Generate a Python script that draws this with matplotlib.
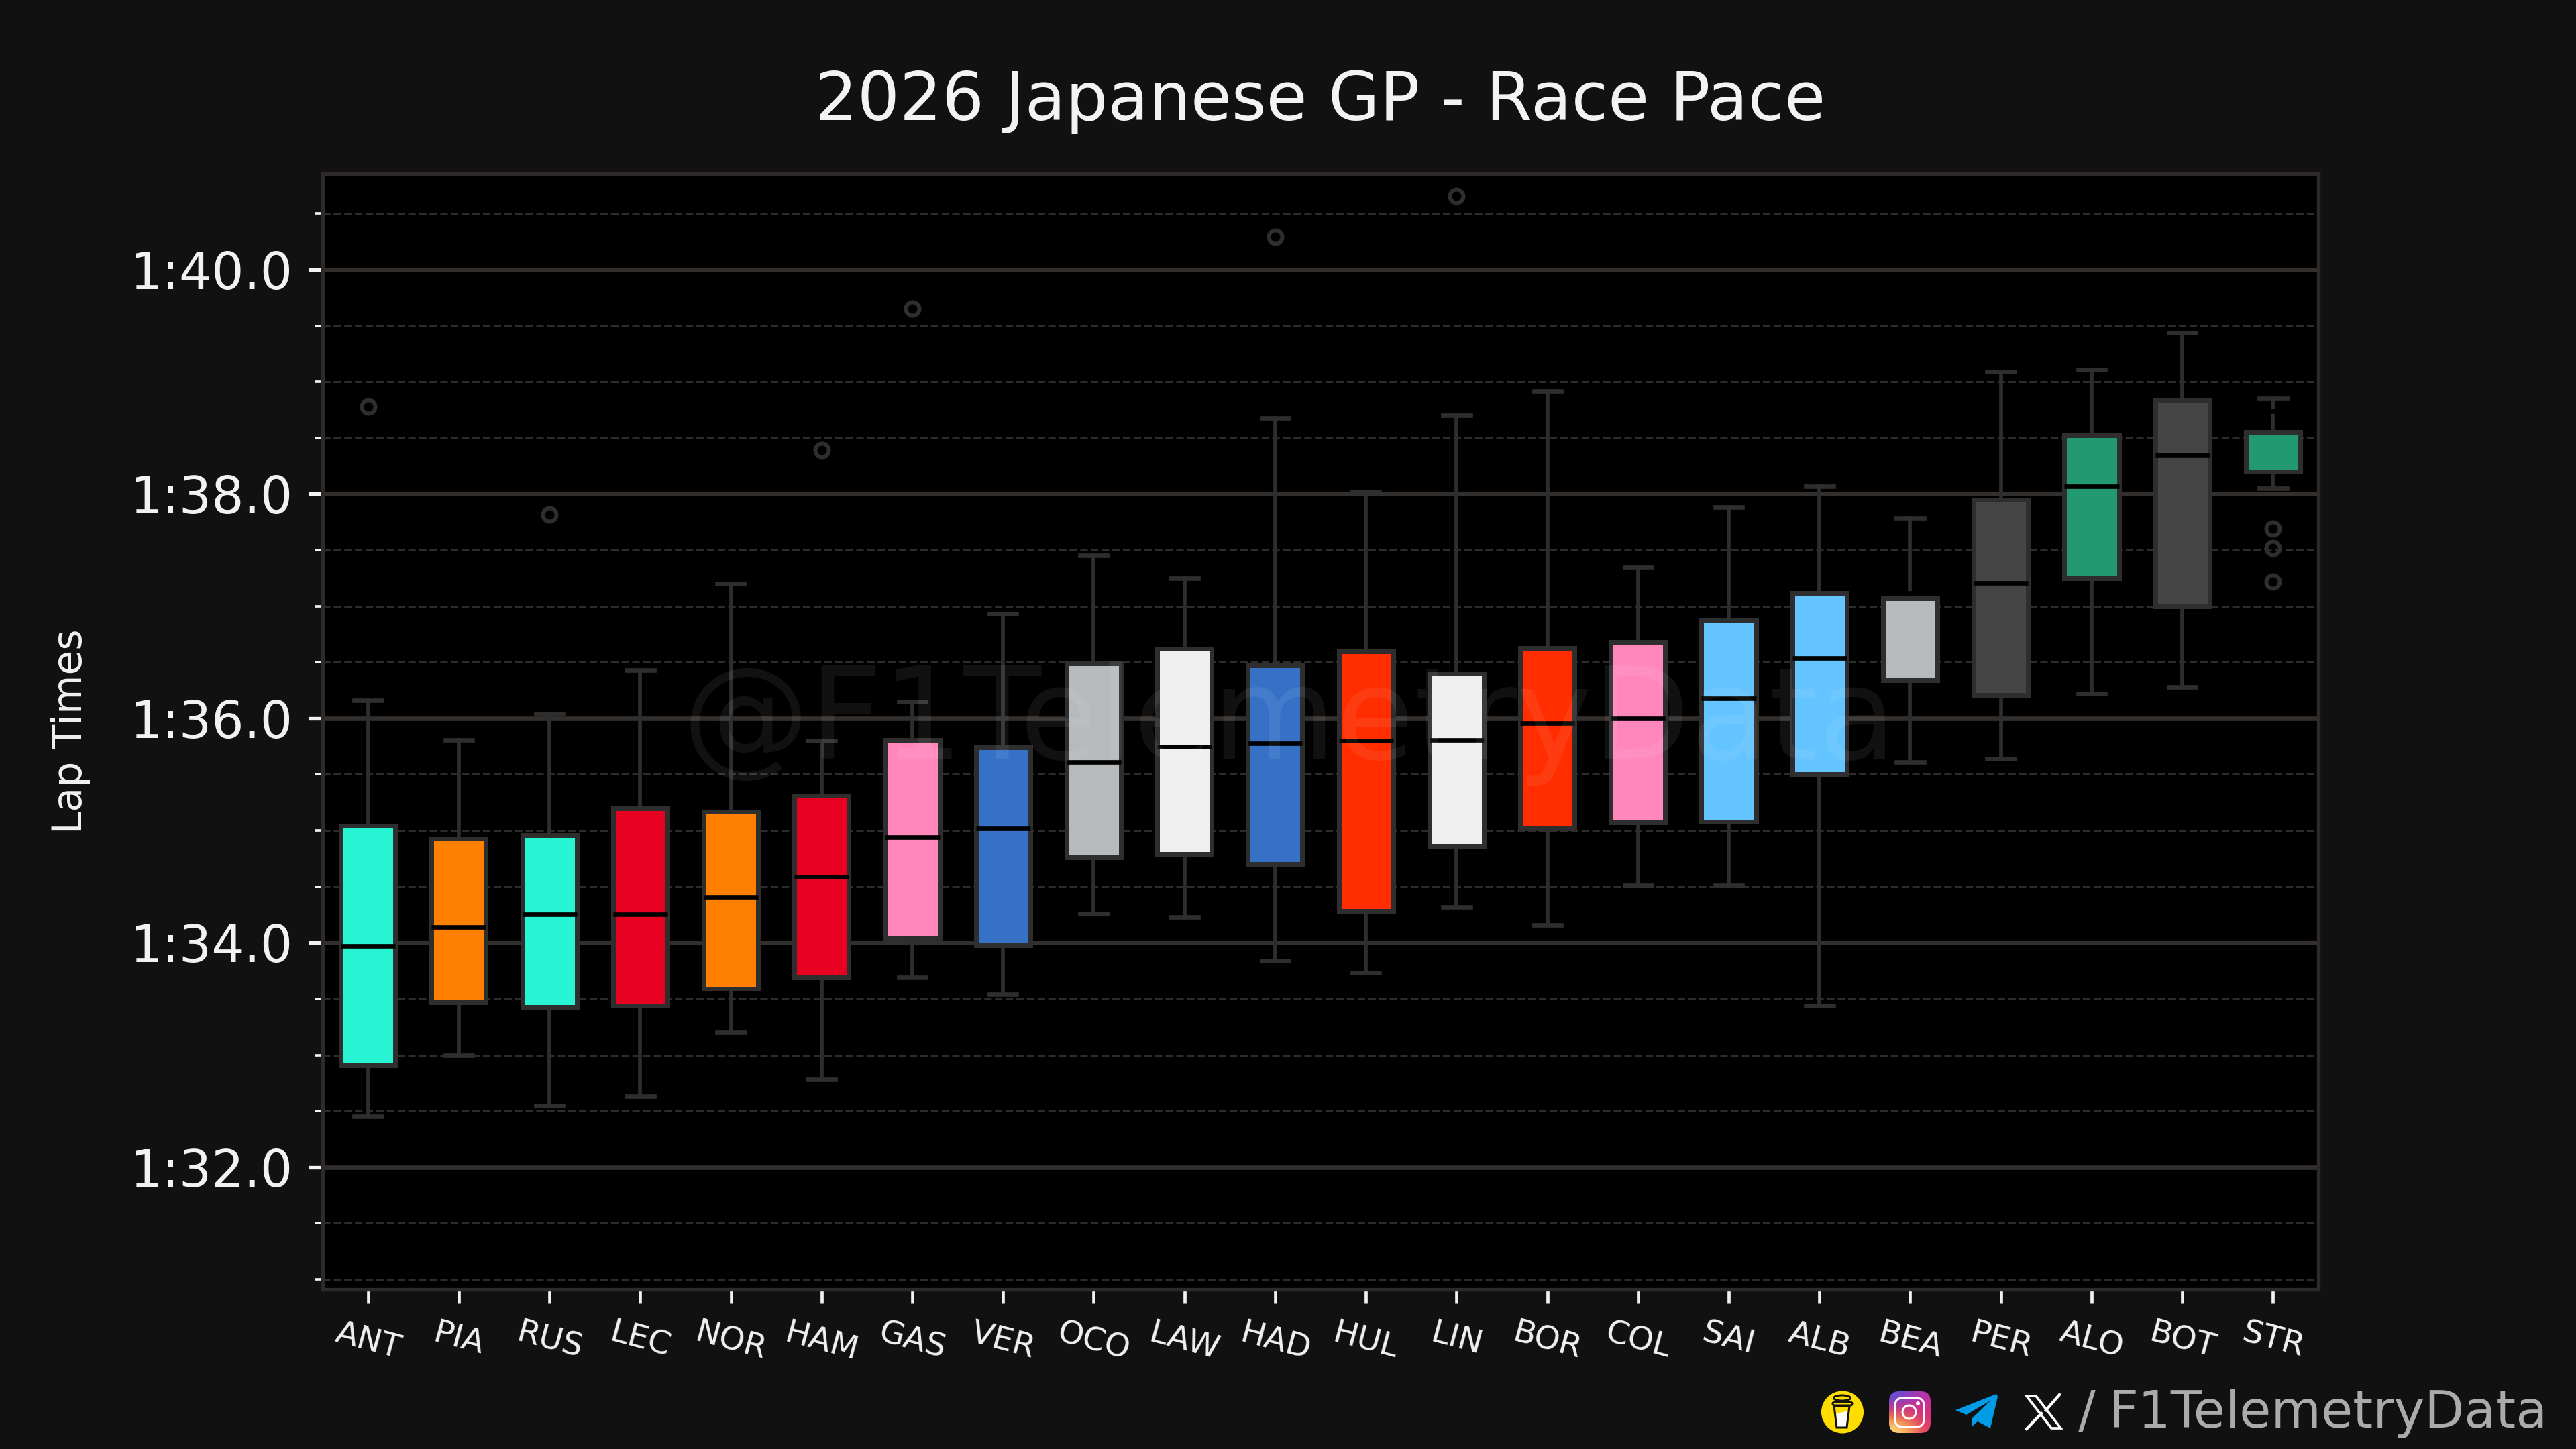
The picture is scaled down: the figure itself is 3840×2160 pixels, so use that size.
"""2026 Japanese GP race pace box plot, dark theme."""

import numpy as np
import matplotlib
matplotlib.use("Agg")
import matplotlib.pyplot as plt
from matplotlib.patches import Circle, Ellipse, FancyBboxPatch, Polygon
from matplotlib.ticker import FuncFormatter, MultipleLocator

# ── Data (lap times in seconds) ───────────────────────────────────────────
drivers = ["ANT", "PIA", "RUS", "LEC", "NOR", "HAM", "GAS", "VER", "OCO", "LAW", "HAD",
           "HUL", "LIN", "BOR", "COL", "SAI", "ALB", "BEA", "PER", "ALO", "BOT", "STR"]
whislo = [92.45, 93.00, 92.55, 92.63, 93.20, 92.78, 93.69, 93.54, 94.26, 94.23, 93.84,
          93.73, 94.32, 94.16, 94.51, 94.51, 93.44, 95.61, 95.64, 96.22, 96.28, 98.05]
q1 = [92.91, 93.47, 93.43, 93.44, 93.59, 93.69, 94.04, 93.98, 94.76, 94.79, 94.70,
      94.28, 94.86, 95.02, 95.07, 95.08, 95.50, 96.34, 96.21, 97.25, 97.00, 98.20]
med = [93.97, 94.14, 94.25, 94.25, 94.41, 94.59, 94.94, 95.02, 95.61, 95.75, 95.78,
       95.80, 95.81, 95.96, 96.00, 96.18, 96.54, 97.12, 97.21, 98.07, 98.35, 98.74]
q3 = [95.04, 94.93, 94.96, 95.20, 95.17, 95.31, 95.81, 95.74, 96.49, 96.62, 96.47,
      96.60, 96.40, 96.63, 96.68, 96.88, 97.12, 97.07, 97.95, 98.52, 98.84, 98.55]
whishi = [96.16, 95.81, 96.04, 96.43, 97.20, 95.80, 96.15, 96.93, 97.45, 97.25, 98.68,
          98.02, 98.70, 98.92, 97.35, 97.88, 98.07, 97.79, 99.09, 99.11, 99.44, 98.85]
fliers = [[98.78], [], [97.82], [], [], [98.39], [99.65], [], [], [], [100.29],
          [], [100.66], [], [], [], [], [], [], [], [], [97.69, 97.52, 97.22]]
box_colors = ["#27F4D2", "#FF8000", "#27F4D2", "#E80020", "#FF8000", "#E80020", "#FF87BC",
              "#3671C6", "#B6BABD", "#EFEFEF", "#3671C6", "#FF2D00", "#EFEFEF", "#FF2D00",
              "#FF87BC", "#64C4FF", "#64C4FF", "#B6BABD", "#454545", "#229971", "#454545",
              "#229971"]

# ── Style ─────────────────────────────────────────────────────────────────
BG = "#111111"
EDGE = "#2E2E2E"
GRID = "#332F2C"
W, H = 3840, 2160
L, R, T, B = 481, 3456, 259, 1922  # axes box in pixels
plt.rcParams["font.family"] = ["DejaVu Sans"]


def fmt_lap(v, _pos):
    return f"{int(v // 60)}:{v % 60:04.1f}"


def draw_footer(fig):
    """Social icons and handle, drawn in figure pixels."""
    ov = fig.add_axes([0, 0, 1, 1], zorder=5)
    ov.set_xlim(0, W)
    ov.set_ylim(H, 0)
    ov.axis("off")
    ink = "#16130A"

    # coffee cup
    ov.add_patch(Circle((2746.5, 2105), 31.5, fc="#FFDD00", ec="none"))
    ov.add_patch(Polygon([(2736, 2108), (2755, 2103), (2753, 2127), (2738, 2127)], fc="white", ec="none"))
    ov.add_patch(Polygon([(2734, 2096), (2757, 2096), (2753, 2128), (2738, 2128)], fc="none", ec=ink, lw=0.9))
    ov.add_patch(FancyBboxPatch((2732, 2090), 29, 5, boxstyle="round,pad=0,rounding_size=2.5",
                                fc="none", ec=ink, lw=0.9))
    ov.add_patch(Ellipse((2746, 2084), 25, 8, fc="none", ec=ink, lw=0.9))

    # instagram
    grad = np.array([[[0.36, 0.32, 0.85], [0.55, 0.25, 0.75], [0.72, 0.20, 0.65]],
                     [[0.72, 0.20, 0.60], [0.82, 0.18, 0.55], [0.82, 0.18, 0.55]],
                     [[0.93, 0.45, 0.25], [0.90, 0.30, 0.35], [0.85, 0.18, 0.48]],
                     [[1.00, 0.86, 0.50], [0.98, 0.65, 0.30], [0.88, 0.25, 0.40]]])
    im = ov.imshow(grad, extent=(2816, 2878, 2136, 2074), interpolation="bicubic", aspect="auto")
    clip = FancyBboxPatch((2816, 2074), 62, 62, boxstyle="round,pad=0,rounding_size=15",
                          fc="none", ec="none", transform=ov.transData)
    ov.add_patch(clip)
    im.set_clip_path(clip)
    ov.add_patch(FancyBboxPatch((2825, 2084), 43, 43, boxstyle="round,pad=0,rounding_size=11",
                                fc="none", ec="white", lw=0.9))
    ov.add_patch(Circle((2846, 2105), 10, fc="none", ec="white", lw=0.9))
    ov.add_patch(Circle((2859, 2092), 3, fc="white", ec="none"))

    # telegram
    ov.add_patch(Polygon([(2915, 2102), (2976, 2078), (2978, 2082), (2967, 2129), (2948, 2119),
                          (2939, 2127), (2939, 2115), (2967, 2088), (2931, 2109)],
                         fc="#039BE5", ec="none"))

    # X
    ov.add_patch(Polygon([(3021, 2081), (3035, 2081), (3072, 2129), (3058, 2129)],
                         fc="none", ec="white", lw=1.1))
    ov.plot([3070, 3050], [2079, 2102], color="white", lw=1.3)
    ov.plot([3043, 3021], [2107, 2130], color="white", lw=1.3)

    ov.set_xlim(0, W)
    ov.set_ylim(H, 0)
    ov.text(3798, 2128, "/", color="#ABABAB", fontsize=23, ha="right", va="baseline",
            transform=ov.transData, position=(3124, 2128))
    ov.text(3798, 2128, "F1TelemetryData", color="#ABABAB", fontsize=23, ha="right", va="baseline")


def main():
    fig = plt.figure(figsize=(16, 9), dpi=240, facecolor=BG)
    ax = fig.add_axes([L / W, 1 - B / H, (R - L) / W, (B - T) / H], facecolor="black")

    stats = [
        {"label": d, "whislo": wl, "q1": a, "med": m, "q3": b, "whishi": wh, "fliers": f}
        for d, wl, a, m, b, wh, f in zip(drivers, whislo, q1, med, q3, whishi, fliers)
    ]
    parts = ax.bxp(
        stats,
        positions=np.arange(len(drivers)),
        widths=0.6,
        patch_artist=True,
        boxprops=dict(edgecolor=EDGE, linewidth=2.1),
        whiskerprops=dict(color=EDGE, linewidth=1.7),
        capprops=dict(color=EDGE, linewidth=2.0),
        medianprops=dict(color="black", linewidth=2.0, solid_capstyle="butt"),
        flierprops=dict(marker="o", markerfacecolor="none", markeredgecolor=EDGE,
                        markersize=6, markeredgewidth=1.8),
        zorder=3,
    )
    for box, color in zip(parts["boxes"], box_colors):
        box.set_facecolor(color)

    ax.set_xlim(-0.5, len(drivers) - 0.5)
    ax.set_ylim(90.91, 100.855)

    ax.yaxis.set_major_locator(MultipleLocator(2))
    ax.yaxis.set_minor_locator(MultipleLocator(0.5))
    ax.yaxis.set_major_formatter(FuncFormatter(fmt_lap))
    ax.set_axisbelow(True)
    ax.grid(axis="y", which="major", color=GRID, lw=2.0, ls="-")
    ax.grid(axis="y", which="minor", color="#2C2C2C", lw=0.9, ls="--")
    ax.grid(axis="x", visible=False)

    ax.tick_params(axis="y", which="major", colors="#F2F2F2", length=6.3, width=1.6, pad=7, labelsize=22.8)
    ax.tick_params(axis="y", which="minor", colors="#F2F2F2", length=3.3, width=1.1)
    ax.tick_params(axis="x", colors="#F2F2F2", length=6.3, width=1.4, pad=6, labelsize=14.5)
    plt.setp(ax.get_xticklabels(), rotation=-15, ha="center", rotation_mode="default")
    ax.tick_params(axis="x", which="minor", bottom=False)

    for spine in ax.spines.values():
        spine.set_color("#2E2A2A")
        spine.set_linewidth(1.6)

    ax.set_title("2026 Japanese GP - Race Pace", color="#F2F3F5", fontsize=29.7, pad=24)
    ax.set_ylabel("Lap Times", color="#F2F2F2", fontsize=18)
    ax.yaxis.set_label_coords((135 - L) / (R - L), 0.5)

    # watermark sits over the boxes
    ax.text((1922 - L) / (R - L), (B - 1131) / (B - T), "@F1TelemetryData", transform=ax.transAxes,
            color="white", alpha=0.07, fontsize=57, ha="center", va="baseline", zorder=10)

    draw_footer(fig)
    fig.savefig("out.png", dpi=240, facecolor=BG)


if __name__ == "__main__":
    main()
